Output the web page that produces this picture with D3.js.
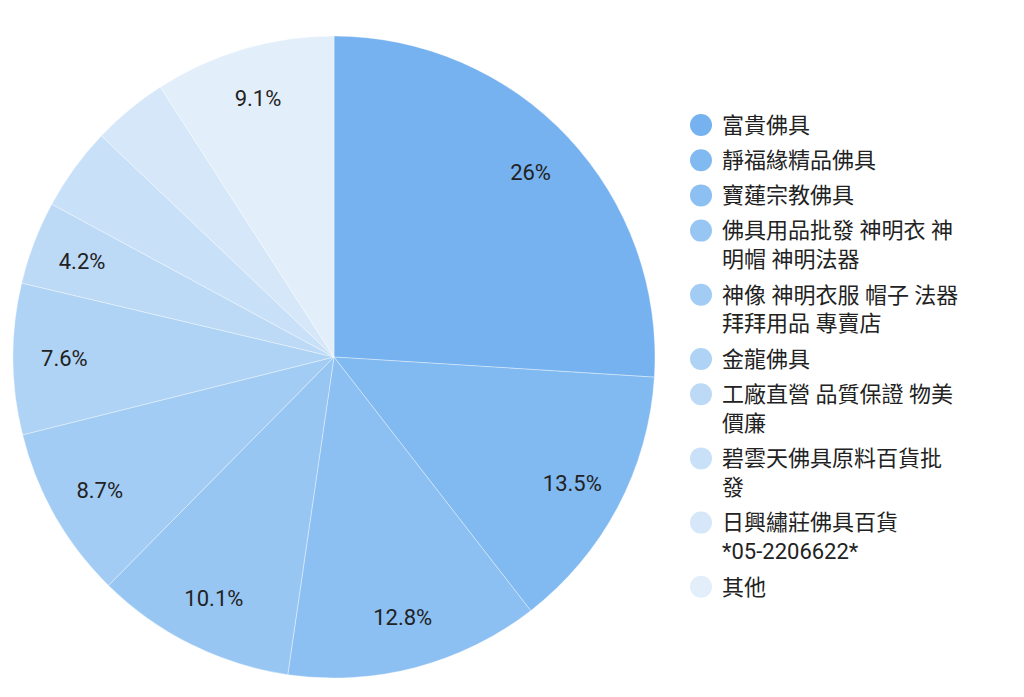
<!DOCTYPE html>
<html>
    <head>
        <meta charset="utf-8">
        <style>
            body { margin: 0; background: #fff; }
            text { font-family: Roboto, "Noto Sans CJK TC", sans-serif; fill: #222; }
        </style>
    </head>
<body>
    <svg width="1024" height="697"></svg>
    <script src="https://d3js.org/d3.v7.min.js"></script>
    <script>
        const shops = ["富貴佛具", "靜福緣精品佛具", "寶蓮宗教佛具", "佛具用品批發 神明衣 神明帽 神明法器",
            "神像 神明衣服 帽子 法器 拜拜用品 專賣店", "金龍佛具", "工廠直營 品質保證 物美價廉",
            "碧雲天佛具原料百貨批發", "日興繡莊佛具百貨 *05-2206622*", "其他"];
        const shares = [26, 13.5, 12.8, 10.1, 8.7, 7.6, 4.2, 4.2, 3.8, 9.1];
        const shownLabels = ["26%", "13.5%", "12.8%", "10.1%", "8.7%", "7.6%", "4.2%", "", "", "9.1%"];
        const colors = ["#76b2ef", "#81b9f1", "#8cbff2", "#98c6f3", "#a3ccf4",
            "#afd3f5", "#bcdaf6", "#c9e1f8", "#d5e7f9", "#e2effb"];

        const svg = d3.select("svg"),
            radius = 321,
            g = svg.append("g")
                .attr("transform", "translate(334,357)");

        const color = d3.scaleOrdinal(d3.range(shares.length), colors);

        const pie = d3.pie()
            .sort(null)
            .value(function(d) { return d; });

        const path = d3.arc()
            .outerRadius(radius)
            .innerRadius(0);

        const label = d3.arc()
            .outerRadius(radius * 0.84)
            .innerRadius(radius * 0.84);

        const arc = g.selectAll(".arc")
            .data(pie(shares))
            .enter().append("g")
            .attr("class", "arc");

        arc.append("path")
            .attr("d", path)
            .attr("fill", function(d) { return color(d.index); })
            .attr("stroke", "#fff")
            .attr("stroke-opacity", 0.6)
            .attr("stroke-width", 0.6);

        arc.append("text")
            .attr("transform", function(d) { return "translate(" + label.centroid(d) + ")"; })
            .attr("dy", "0.35em")
            .attr("text-anchor", "middle")
            .style("font-size", "22px")
            .text(function(d) { return shownLabels[d.index]; });

        // legend, wrapped to a fixed width
        const legend = svg.append("g").attr("transform", "translate(701,0)");
        const maxWidth = 239, lineHeight = 29, itemGap = 35.2;
        const probe = svg.append("text").style("font-size", "22px");
        function width(s) { probe.text(s); return probe.node().getComputedTextLength(); }
        function wrap(s) {
            const tokens = s.match(/[\u3000-\u9fff\uf900-\ufaff]|\s+|[^\s\u3000-\u9fff\uf900-\ufaff]+/g);
            const lines = [];
            let line = "";
            tokens.forEach(function(t) {
                if (line && width((line + t).trimEnd()) > maxWidth) {
                    lines.push(line.trim());
                    line = /^\s+$/.test(t) ? "" : t;
                } else {
                    line += t;
                }
            });
            if (line.trim()) lines.push(line.trim());
            return lines;
        }

        let y = 125;
        shops.forEach(function(name, i) {
            const lines = wrap(name);
            const item = legend.append("g").attr("transform", "translate(0," + y + ")");
            item.append("circle")
                .attr("r", 11)
                .attr("fill", color(i));
            const t = item.append("text")
                .attr("x", 21)
                .style("font-size", "22px");
            lines.forEach(function(l, k) {
                t.append("tspan")
                    .attr("x", 21)
                    .attr("y", k * lineHeight)
                    .attr("dy", "0.35em")
                    .text(l);
            });
            y += (lines.length - 1) * lineHeight + itemGap;
        });
        probe.remove();
    </script>
</body>

</html>
